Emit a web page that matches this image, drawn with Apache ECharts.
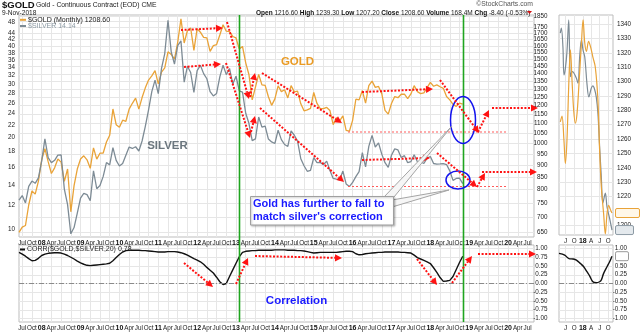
<!DOCTYPE html>
<html>
<head>
<meta charset="utf-8">
<script src="https://cdn.jsdelivr.net/npm/echarts@6/dist/echarts.min.js"></script>
<style>
  html, body { margin: 0; padding: 0; background: #fff; }
  #c { width: 640px; height: 332px; }
</style>
</head>
<body>
<div id="c"></div>
<script>
// Monthly closes, Jun 2007 .. Nov 2018
const firstMonth = [2007, 6];
const lastAxisMonth = [2020, 9];

const goldMonthly = [
  651, 668, 673, 743, 795, 783, 834,
  924, 975, 916, 865, 889, 928, 914, 833, 884, 719, 816, 884,
  928, 942, 924, 887, 979, 927, 954, 955, 1007, 1040, 1181, 1095,
  1081, 1119, 1113, 1180, 1214, 1245, 1180, 1248, 1308, 1358, 1386, 1421,
  1333, 1411, 1440, 1556, 1537, 1502, 1628, 1825, 1624, 1725, 1746, 1567,
  1740, 1711, 1669, 1665, 1560, 1604, 1611, 1688, 1774, 1719, 1715, 1676,
  1664, 1578, 1597, 1476, 1393, 1234, 1313, 1396, 1327, 1324, 1253, 1202,
  1240, 1321, 1284, 1296, 1246, 1322, 1283, 1287, 1211, 1171, 1176, 1184,
  1279, 1213, 1183, 1183, 1190, 1172, 1095, 1133, 1115, 1142, 1065, 1061,
  1118, 1238, 1234, 1291, 1215, 1322, 1351, 1311, 1317, 1272, 1173, 1152,
  1213, 1254, 1247, 1268, 1269, 1241, 1270, 1322, 1284, 1272, 1277, 1309,
  1343, 1318, 1327, 1315, 1305, 1254, 1234, 1207, 1196, 1215, 1208.6
];

const silverMonthly = [
  12.47, 12.92, 12.21, 13.84, 14.41, 14.17, 14.76,
  16.76, 19.84, 17.21, 16.57, 16.86, 17.54, 17.58, 13.56, 12.06, 9.67, 10.14, 11.30,
  12.67, 13.13, 13.01, 12.42, 15.58, 13.60, 13.93, 14.93, 16.58, 16.29, 18.56, 16.85,
  16.15, 16.45, 17.52, 18.64, 18.44, 18.68, 18.09, 19.51, 21.80, 24.70, 28.33, 30.92,
  27.90, 33.80, 37.80, 48.60, 38.30, 34.89, 40.11, 41.60, 30.45, 34.35, 32.76, 28.18,
  33.24, 34.58, 32.48, 31.24, 28.33, 27.43, 27.97, 31.68, 34.63, 32.24, 33.77, 30.00,
  31.86, 28.50, 28.26, 24.06, 22.27, 19.56, 19.82, 23.39, 21.67, 21.85, 19.80, 19.37,
  19.15, 21.18, 19.72, 19.00, 18.72, 21.06, 20.38, 19.49, 17.06, 16.18, 15.52, 15.63,
  17.20, 16.57, 16.60, 16.30, 16.76, 15.62, 14.70, 14.62, 14.55, 15.54, 14.10, 13.82,
  14.26, 14.91, 15.48, 17.88, 16.04, 18.74, 20.36, 18.64, 19.24, 17.67, 16.56, 15.99,
  17.52, 18.38, 18.24, 17.22, 17.46, 16.56, 16.70, 17.58, 16.68, 16.70, 16.46, 17.15,
  17.35, 16.46, 16.39, 16.40, 16.43, 16.33, 15.57, 14.49, 14.70, 14.74, 14.14
];

// 20-month correlation of gold vs silver
const corrMonthly = [
  0.89, 0.84, 0.78, 0.71, 0.65, 0.66, 0.72,
  0.80, 0.84, 0.86, 0.87, 0.88, 0.88, 0.87, 0.84, 0.80, 0.75, 0.70, 0.64,
  0.59, 0.55, 0.52, 0.51, 0.52, 0.53, 0.54, 0.55, 0.56, 0.58, 0.65, 0.74,
  0.83, 0.90, 0.94, 0.95, 0.95, 0.95, 0.95, 0.94, 0.94, 0.93, 0.92, 0.91,
  0.90, 0.90, 0.90, 0.91, 0.91, 0.91, 0.90, 0.88, 0.85, 0.81, 0.76, 0.71,
  0.67, 0.62, 0.55, 0.46, 0.38, 0.30, 0.18, 0.05, -0.03, 0.00, 0.20, 0.39,
  0.58, 0.76, 0.89, 0.92, 0.93, 0.94, 0.94, 0.95, 0.95, 0.95, 0.95, 0.95,
  0.96, 0.96, 0.96, 0.96, 0.95, 0.95, 0.95, 0.94, 0.94, 0.93, 0.91, 0.89,
  0.87, 0.88, 0.89, 0.89, 0.89, 0.89, 0.89, 0.89, 0.90, 0.91, 0.92, 0.92,
  0.91, 0.85, 0.82, 0.83, 0.85, 0.86, 0.87, 0.88, 0.89, 0.89, 0.90, 0.90,
  0.90, 0.90, 0.90, 0.89, 0.89, 0.88, 0.87, 0.81, 0.74, 0.70, 0.66, 0.62,
  0.57, 0.45, 0.32, 0.17, 0.06, 0.07, 0.09, 0.20, 0.40, 0.60, 0.78
];

const silverTicks = [10,12,14,16,18,20,22,24,26,28,30,32,34,36,38,40,42,44,46,48];
const goldTicks = [650,700,750,800,850,900,950,1000,1050,1100,1150,1200,1250,1300,1350,
  1400,1450,1500,1550,1600,1650,1700,1750,1800,1850];
const corrTicks = [-1, -0.75, -0.5, -0.25, 0, 0.25, 0.5, 0.75, 1];

// Short-term inset, May 2017 .. Nov 2018
const miniRange = ['2017-04-22', '2018-11-20'];
const miniGoldTicks = [1200,1210,1220,1230,1240,1250,1260,1270,1280,1290,1300,1310,1320,1330,1340];
const miniQuarterTicks = ['2017-07-01','2017-10-01','2018-01-01','2018-04-01','2018-07-01','2018-10-01'];
const miniGold = [
  ['2017-05-06',1272],['2017-05-24',1276],['2017-06-14',1259],['2017-06-29',1243],
  ['2017-07-16',1259],['2017-08-07',1303],['2017-08-22',1322],['2017-09-08',1301],
  ['2017-09-26',1280],['2017-10-14',1271],['2017-11-01',1278],['2017-11-22',1299],
  ['2017-12-18',1327],['2018-01-04',1343],['2018-01-22',1327],['2018-02-09',1321],
  ['2018-03-04',1328],['2018-03-26',1324],['2018-04-19',1317],['2018-05-15',1310],
  ['2018-06-12',1287],['2018-06-30',1252],['2018-07-18',1227],['2018-08-12',1208],
  ['2018-08-30',1194],['2018-09-17',1208],['2018-10-05',1214],['2018-10-23',1211],
  ['2018-11-09',1208.6]
];
const miniSilver = [
  ['2017-05-06',17.72],['2017-05-17',17.81],['2017-06-03',17.47],['2017-06-14',16.96],
  ['2017-06-29',17.08],['2017-07-16',17.38],['2017-08-04',17.96],['2017-08-22',16.93],
  ['2017-09-08',17.02],['2017-09-26',17.00],['2017-10-25',16.90],['2017-11-11',16.81],
  ['2017-11-29',17.29],['2017-12-18',17.60],['2018-01-04',17.41],['2018-01-22',17.29],
  ['2018-02-16',16.78],['2018-03-07',16.56],['2018-04-02',16.72],['2018-04-19',16.76],
  ['2018-05-07',16.70],['2018-05-25',16.56],['2018-06-12',16.26],['2018-06-30',15.66],
  ['2018-07-18',15.11],['2018-08-04',14.63],['2018-08-30',14.81],['2018-09-17',14.56],
  ['2018-10-15',14.35],['2018-11-09',14.14]
];
const miniCorr = [
  ['2017-04-22',0.86],['2017-06-22',0.81],['2017-08-07',0.71],['2017-09-19',0.70],
  ['2017-10-25',0.67],['2017-12-07',0.57],['2018-01-11',0.48],['2018-02-16',0.33],
  ['2018-03-15',0.22],['2018-04-19',0.05],['2018-05-25',0.02],['2018-06-30',0.05],
  ['2018-07-18',0.10],['2018-08-12',0.29],['2018-09-17',0.48],['2018-10-15',0.62],
  ['2018-11-09',0.78]
];

// Event markers (vertical green lines)
const markerMonths = ['2013-02', '2018-11'];

// ---- month categories for the long-term panels ----
const months = [];
for (let y = firstMonth[0], m = firstMonth[1];
     y < lastAxisMonth[0] || (y === lastAxisMonth[0] && m <= lastAxisMonth[1]);) {
  months.push(y + '-' + String(m).padStart(2, '0'));
  m++; if (m > 12) { m = 1; y++; }
}
const ts = d => Date.parse(d + 'T00:00:00Z');
const toXY = arr => arr.map(([d, v]) => [ts(d), v]);

const FONT = '"Liberation Sans", Arial, sans-serif';
const GOLD_C = '#e9a338';
const SILVER_C = '#7d8b95';
const GRID_C = '#e6e6e6';
const FRAME_C = '#bdbdbd';
const AX_FS = 6.3;

const quarterShown = (i, v) => [1, 4, 7, 10].indexOf(+String(v).slice(5)) >= 0;
const monthLabel = v => {
  const m = +v.slice(5);
  if (m === 1) return '{y|' + v.slice(2, 4) + '}';
  return { 4: 'Apr', 7: 'Jul', 10: 'Oct' }[m] || '';
};
const miniLabel = v => {
  const d = new Date(v), m = d.getUTCMonth();
  if (m === 0) return '{y|' + String(d.getUTCFullYear()).slice(2) + '}';
  return { 3: 'A', 6: 'J', 9: 'O' }[m] || '';
};
const plain = v => String(Math.round(v * 100) / 100);

function catAxis(gridIndex) {
  return {
    type: 'category', gridIndex, data: months, boundaryGap: false,
    axisLine: { show: false }, axisTick: { show: false },
    axisLabel: {
      interval: quarterShown, formatter: monthLabel, fontSize: AX_FS, fontFamily: FONT,
      color: '#222', margin: 3, hideOverlap: false,
      rich: { y: { fontWeight: 'bold', fontSize: AX_FS + 0.7, fontFamily: FONT, color: '#111' } }
    },
    splitLine: { show: true, interval: quarterShown, lineStyle: { color: GRID_C, width: 1 } }
  };
}
function miniDateAxis(gridIndex) {
  const q = miniQuarterTicks.map(ts);
  return {
    type: 'value', gridIndex, min: ts(miniRange[0]), max: ts(miniRange[1]),
    axisLine: { show: false },
    axisTick: { show: false, customValues: q },
    axisLabel: {
      customValues: q, formatter: miniLabel, fontSize: AX_FS, fontFamily: FONT,
      color: '#222', margin: 3, hideOverlap: false,
      rich: { y: { fontWeight: 'bold', fontSize: AX_FS + 0.7, fontFamily: FONT, color: '#111' } }
    },
    splitLine: { show: true, lineStyle: { color: GRID_C, width: 1 } }
  };
}
const lbl = extra => Object.assign({ fontSize: AX_FS, fontFamily: FONT, color: '#222',
  hideOverlap: false, showMinLabel: true, showMaxLabel: true }, extra);
const frame = { show: true, borderColor: FRAME_C, borderWidth: 1, backgroundColor: '#fff' };
const zeroLine = {
  silent: true, symbol: 'none', label: { show: false },
  lineStyle: { type: [5, 2, 1, 2], color: '#8a8a8a', width: 1 },
  data: [{ yAxis: 0 }]
};

const chart = echarts.init(document.getElementById('c'), null, { renderer: 'canvas', width: 640, height: 332 });

chart.setOption({
  animation: false,
  backgroundColor: '#fff',
  grid: [
    Object.assign({ left: 19, right: 106, top: 15, height: 222 }, frame),
    Object.assign({ left: 19, right: 106, top: 245, height: 77 }, frame),
    Object.assign({ left: 559, right: 27, top: 15, height: 220 }, frame),
    Object.assign({ left: 559, right: 27, top: 245, height: 77 }, frame)
  ],
  xAxis: [catAxis(0), catAxis(1), miniDateAxis(2), miniDateAxis(3)],
  yAxis: [
    { // silver, log, left
      type: 'log', gridIndex: 0, position: 'left', min: 9.44, max: 50.6,
      axisLine: { show: false }, axisTick: { show: false, customValues: silverTicks },
      axisLabel: lbl({ customValues: silverTicks, margin: 4, formatter: plain }),
      splitLine: { show: false }
    },
    { // gold, log, right
      type: 'log', gridIndex: 0, position: 'right', min: 636.7, max: 1859,
      axisLine: { show: false }, axisTick: { show: false, customValues: goldTicks },
      axisLabel: lbl({ customValues: goldTicks, margin: 13.5, align: 'right', formatter: plain }),
      splitLine: { show: true, lineStyle: { color: GRID_C, width: 1 } }
    },
    { // correlation
      type: 'value', gridIndex: 1, position: 'right', min: -1.1, max: 1.1,
      axisLine: { show: false }, axisTick: { show: false, customValues: corrTicks },
      axisLabel: lbl({ customValues: corrTicks, margin: 13.5, align: 'right', formatter: v => v.toFixed(2) }),
      splitLine: { show: true, lineStyle: { color: GRID_C, width: 1 } }
    },
    { // inset gold
      type: 'value', gridIndex: 2, position: 'right', min: 1193.3, max: 1346.3,
      axisLine: { show: false }, axisTick: { show: false, customValues: miniGoldTicks },
      axisLabel: lbl({ customValues: miniGoldTicks, margin: 4, formatter: plain }),
      splitLine: { show: true, lineStyle: { color: GRID_C, width: 1 } }
    },
    { // inset silver (scale only)
      type: 'value', gridIndex: 2, position: 'left', min: 14.05, max: 18.05, show: false,
      splitLine: { show: false }
    },
    { // inset correlation
      type: 'value', gridIndex: 3, position: 'right', min: -1.1, max: 1.1,
      axisLine: { show: false }, axisTick: { show: false, customValues: corrTicks },
      axisLabel: lbl({ customValues: corrTicks, margin: 14, align: 'right', formatter: v => v.toFixed(2) }),
      splitLine: { show: true, lineStyle: { color: GRID_C, width: 1 } }
    }
  ],
  series: [
    { name: '$GOLD', type: 'line', xAxisIndex: 0, yAxisIndex: 1, data: goldMonthly,
      symbol: 'none', lineStyle: { color: GOLD_C, width: 1.3 }, z: 3 },
    { name: '$SILVER', type: 'line', xAxisIndex: 0, yAxisIndex: 0, data: silverMonthly,
      symbol: 'none', lineStyle: { color: SILVER_C, width: 1.3 }, z: 4 },
    { name: 'CORR', type: 'line', xAxisIndex: 1, yAxisIndex: 2, data: corrMonthly,
      symbol: 'none', lineStyle: { color: '#111', width: 1.4 }, markLine: zeroLine, z: 3 },
    { name: 'gold-inset', type: 'line', xAxisIndex: 2, yAxisIndex: 3, data: toXY(miniGold),
      symbol: 'none', smooth: 0.35, lineStyle: { color: GOLD_C, width: 1.2 }, z: 4 },
    { name: 'silver-inset', type: 'line', xAxisIndex: 2, yAxisIndex: 4, data: toXY(miniSilver),
      symbol: 'none', smooth: 0.35, lineStyle: { color: SILVER_C, width: 1.2 }, z: 3 },
    { name: 'corr-inset', type: 'line', xAxisIndex: 3, yAxisIndex: 5, data: toXY(miniCorr),
      symbol: 'none', smooth: 0.35, lineStyle: { color: '#111', width: 1.4 }, markLine: zeroLine, z: 3 }
  ]
});

// ---- annotation overlay ----
const RED = '#ff1212';
const BLUE = '#1a1aff';
const annotationArrows = [
  [181, 30, 223, 28], [227, 22, 249, 99], [250, 97, 255, 73], [262, 73, 342, 123],
  [362, 92, 433, 89], [440, 80, 479, 133], [478, 132, 489, 110], [492, 108, 538, 108],
  [184, 67, 221, 64], [226, 63, 250, 138], [251, 132, 255, 116], [260, 108, 344, 182],
  [362, 160, 430, 158], [437, 153, 477, 187], [477, 187, 485, 173], [482, 172, 537, 172],
  [184, 263, 213, 287], [236, 284, 248, 258], [255, 256, 342, 258],
  [417, 259, 437, 285], [452, 283, 472, 256], [478, 254, 536, 254]
];
const supportLines = [[348, 132, 507, 132], [348, 186.5, 507, 186.5]];
const ellipses = [[463, 120, 12.5, 23.5], [458, 180, 12, 9]];

function arrow(a) {
  const [x1, y1, x2, y2] = a;
  const dx = x2 - x1, dy = y2 - y1, L = Math.hypot(dx, dy), ux = dx / L, uy = dy / L;
  const hl = 7, hw = 3.6, bx = x2 - ux * hl, by = y2 - uy * hl;
  return [
    { type: 'line', z: 100, silent: true, shape: { x1, y1, x2: bx, y2: by },
      style: { stroke: RED, lineWidth: 2, lineDash: [2, 1.6] } },
    { type: 'polygon', z: 100, silent: true,
      shape: { points: [[x2, y2], [bx - uy * hw, by + ux * hw], [bx + uy * hw, by - ux * hw]] },
      style: { fill: RED } }
  ];
}
function txt(x, y, text, font, fill, align, extra) {
  return { type: 'text', x, y, z: 110, silent: true,
    style: Object.assign({ text, font, fill, align: align || 'left', verticalAlign: 'middle' }, extra || {}) };
}

const els = [];
annotationArrows.forEach(a => els.push(...arrow(a)));
supportLines.forEach(([x1, y1, x2, y2]) => els.push({ type: 'line', z: 90, silent: true,
  shape: { x1, y1, x2, y2 }, style: { stroke: '#ff5a5a', lineWidth: 1, lineDash: [2, 2] } }));
ellipses.forEach(([cx, cy, rx, ry]) => els.push({ type: 'ellipse', z: 95, silent: true,
  shape: { cx, cy, rx, ry }, style: { stroke: '#1414ee', lineWidth: 1.5, fill: null } }));

// callout
els.push({ type: 'polygon', z: 104, silent: true, shape: { points: [[384, 197], [452, 126], [394, 197]] },
  style: { fill: '#f6f6f6', stroke: '#a5a5a5', lineWidth: 1 } });
els.push({ type: 'polygon', z: 104, silent: true, shape: { points: [[392, 200], [449, 190], [392, 207]] },
  style: { fill: '#f6f6f6', stroke: '#a5a5a5', lineWidth: 1 } });
els.push({ type: 'rect', z: 105, silent: true, shape: { x: 250.5, y: 196.5, width: 143, height: 28.5 },
  style: { fill: '#fff', stroke: '#a0a0a0', lineWidth: 1, shadowBlur: 2, shadowColor: 'rgba(0,0,0,0.25)', shadowOffsetX: 1, shadowOffsetY: 1 } });
els.push(txt(253, 204.3, 'Gold has further to fall to', 'bold 11px ' + FONT, BLUE));
els.push(txt(253, 217, "match silver's correction", 'bold 11px ' + FONT, BLUE));

els.push(txt(297.5, 62, 'GOLD', 'bold 11.5px ' + FONT, '#ea9b24', 'center'));
els.push(txt(167.5, 146, 'SILVER', 'bold 11.5px ' + FONT, '#6b767e', 'center'));
els.push(txt(296.5, 301, 'Correlation', 'bold 11.5px ' + FONT, BLUE, 'center'));

// header
els.push(txt(2, 5.5, '$GOLD', 'bold 9.5px ' + FONT, '#111'));
els.push(txt(36, 5.5, 'Gold - Continuous Contract (EOD) CME', '6.8px ' + FONT, '#222'));
els.push(txt(2, 12.8, '9-Nov-2018', '6.6px ' + FONT, '#222'));
els.push({ type: 'text', x: 256, y: 12.8, z: 110, silent: true, style: {
  text: '{b|Open} 1216.60 {b|High} 1239.30 {b|Low} 1207.20 {b|Close} 1208.60 {b|Volume} 168.4M {b|Chg} -8.40 (-0.53%)',
  fontSize: 6.5, fontFamily: FONT, fill: '#222', verticalAlign: 'middle',
  rich: { b: { fontWeight: 'bold', fontSize: 6.5, fontFamily: FONT, fill: '#111' } } } });
els.push({ type: 'polygon', z: 110, silent: true, shape: { points: [[527, 11], [532, 11], [529.5, 14]] },
  style: { fill: '#d01010' } });
els.push(txt(533, 4.5, '\u00a9StockCharts.com', '6.8px ' + FONT, '#555', 'right'));

// legends
els.push({ type: 'line', z: 110, silent: true, shape: { x1: 20, y1: 19.8, x2: 26, y2: 19.8 }, style: { stroke: GOLD_C, lineWidth: 2 } });
els.push(txt(28, 19.8, '$GOLD (Monthly) 1208.60', '7px ' + FONT, '#222'));
els.push({ type: 'line', z: 110, silent: true, shape: { x1: 20, y1: 26, x2: 26, y2: 26 }, style: { stroke: SILVER_C, lineWidth: 2 } });
els.push(txt(28, 26, '$SILVER 14.14', '7px ' + FONT, '#8c9aa4'));
els.push({ type: 'line', z: 110, silent: true, shape: { x1: 20, y1: 249.5, x2: 25, y2: 249.5 }, style: { stroke: '#111', lineWidth: 2 } });
els.push(txt(27, 249.5, 'CORR($GOLD,$SILVER,20) 0.78', '7px ' + FONT, '#222'));

// event markers through both long-term panels
markerMonths.forEach(m => {
  const x = Math.round(chart.convertToPixel({ xAxisIndex: 0 }, m)) + 0.5;
  els.push({ type: 'line', z: 80, silent: true, shape: { x1: x, y1: 15, x2: x, y2: 322 },
    style: { stroke: '#1fa51f', lineWidth: 1.6 } });
});

// last-value tags on the inset
function tag(y, text, w, fill, stroke) {
  els.push({ type: 'rect', z: 112, silent: true, shape: { x: 615.5, y: y - 4.5, width: w, height: 9, r: 1.5 },
    style: { fill, stroke, lineWidth: 1 } });
  els.push(txt(616.8, y, text, 'bold 6.2px ' + FONT, '#111'));
}
const lastGold = miniGold[miniGold.length - 1];
const lastSilver = miniSilver[miniSilver.length - 1];
const lastCorr = miniCorr[miniCorr.length - 1];
tag(chart.convertToPixel({ xAxisIndex: 2, yAxisIndex: 3 }, [ts(lastGold[0]), lastGold[1]])[1], lastGold[1].toFixed(2), 24, '#fff7e8', GOLD_C);
tag(chart.convertToPixel({ xAxisIndex: 2, yAxisIndex: 4 }, [ts(lastSilver[0]), lastSilver[1]])[1], lastSilver[1].toFixed(2), 18, '#e4e9ed', '#8c9aa4');
tag(chart.convertToPixel({ xAxisIndex: 3, yAxisIndex: 5 }, [ts(lastCorr[0]), lastCorr[1]])[1], lastCorr[1].toFixed(2), 13, '#fff', '#999');

chart.setOption({ graphic: { elements: els } });
</script>
</body>
</html>
